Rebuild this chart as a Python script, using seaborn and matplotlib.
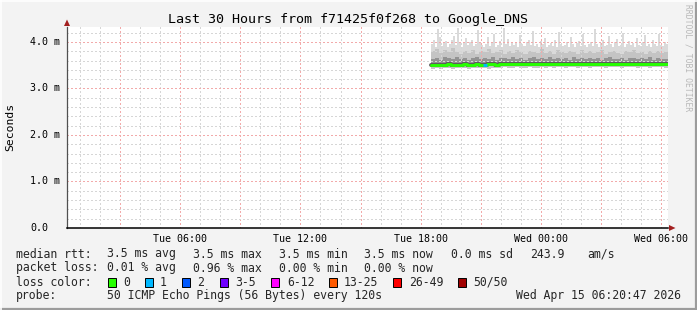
import matplotlib
matplotlib.use("Agg")
import numpy as np
import pandas as pd
import matplotlib.pyplot as plt
import matplotlib.dates as mdates
from matplotlib.patches import Rectangle, Polygon
from matplotlib.lines import Line2D
from matplotlib.ticker import FixedLocator, MultipleLocator, FuncFormatter
from matplotlib.transforms import blended_transform_factory
import seaborn as sns

# ---------------- data ----------------
title = "Last 30 Hours from f71425f0f268 to Google_DNS"
range_start = "2026-04-14 00:20:47"
range_end = "2026-04-15 06:20:47"
data_start = "2026-04-14 18:32:00"
coarse_step = "12min"
fine_step = "6min"

median_ms = [3.51, 3.50, 3.51, 3.51, 3.52, 3.51, 3.50, 3.51, 3.52, 3.51,
             3.51, 3.52, 3.51, 3.51, 3.52, 3.52, 3.51, 3.52, 3.52, 3.53,
             3.52, 3.52, 3.53, 3.52, 3.52, 3.53, 3.53, 3.52, 3.53, 3.53,
             3.53, 3.52, 3.53, 3.53, 3.53, 3.52, 3.53, 3.53, 3.53, 3.53,
             3.53, 3.53, 3.52, 3.53, 3.53, 3.53, 3.53, 3.52, 3.53, 3.53,
             3.53, 3.53, 3.53, 3.52, 3.53, 3.53, 3.53, 3.53, 3.53]
lo_ms = [3.42, 3.43, 3.42, 3.44, 3.43, 3.42, 3.44, 3.43, 3.43, 3.42,
         3.44, 3.43, 3.44, 3.43, 3.42, 3.44, 3.43, 3.44, 3.45, 3.44,
         3.43, 3.45, 3.44, 3.44, 3.45, 3.43, 3.44, 3.45, 3.44, 3.45,
         3.44, 3.45, 3.45, 3.44, 3.45, 3.46, 3.44, 3.45, 3.45, 3.44,
         3.45, 3.46, 3.45, 3.44, 3.45, 3.45, 3.46, 3.44, 3.45, 3.45,
         3.46, 3.44, 3.45, 3.45, 3.44, 3.46, 3.45, 3.45, 3.44]
q25_ms = [3.48, 3.48, 3.47, 3.49, 3.48, 3.48, 3.49, 3.48, 3.49, 3.48,
          3.49, 3.48, 3.49, 3.49, 3.48, 3.49, 3.49, 3.49, 3.50, 3.49,
          3.49, 3.50, 3.49, 3.50, 3.50, 3.49, 3.50, 3.50, 3.49, 3.50,
          3.50, 3.50, 3.50, 3.49, 3.50, 3.51, 3.50, 3.50, 3.50, 3.50,
          3.50, 3.51, 3.50, 3.50, 3.50, 3.50, 3.51, 3.50, 3.50, 3.50,
          3.51, 3.50, 3.50, 3.50, 3.50, 3.51, 3.50, 3.50, 3.50]
q75_ms = [3.64, 3.66, 3.62, 3.68, 3.65, 3.63, 3.67, 3.64, 3.66, 3.62,
          3.65, 3.68, 3.63, 3.66, 3.64, 3.67, 3.62, 3.65, 3.66, 3.63,
          3.67, 3.64, 3.65, 3.62, 3.66, 3.68, 3.63, 3.65, 3.64, 3.67,
          3.63, 3.66, 3.64, 3.65, 3.62, 3.67, 3.64, 3.66, 3.63, 3.65,
          3.64, 3.66, 3.62, 3.65, 3.67, 3.63, 3.64, 3.66, 3.62, 3.65,
          3.66, 3.63, 3.65, 3.64, 3.67, 3.62, 3.65, 3.64, 3.63]
q90_ms = [3.80, 3.84, 3.76, 3.82, 3.78, 3.86, 3.79, 3.74, 3.81, 3.77,
          3.83, 3.75, 3.80, 3.78, 3.85, 3.76, 3.79, 3.82, 3.74, 3.80,
          3.77, 3.83, 3.78, 3.75, 3.81, 3.79, 3.76, 3.84, 3.77, 3.80,
          3.74, 3.82, 3.78, 3.76, 3.81, 3.79, 3.75, 3.83, 3.77, 3.80,
          3.76, 3.78, 3.82, 3.74, 3.79, 3.81, 3.77, 3.75, 3.80, 3.78,
          3.83, 3.76, 3.79, 3.74, 3.81, 3.77, 3.80, 3.76, 3.78]
max_ms = [3.95, 4.05, 3.90, 4.28, 4.10, 3.92, 3.98, 4.02, 3.88, 3.96,
          4.05, 4.12, 3.94, 4.30, 4.00, 3.90, 3.97, 4.08, 3.93, 3.99,
          4.04, 3.91, 3.95, 4.26, 4.00, 3.93, 3.88, 3.96, 4.10, 3.92,
          3.98, 4.18, 3.90, 3.94, 4.02, 3.89, 4.30, 3.95, 4.06, 3.92,
          3.97, 3.93, 4.00, 3.90, 4.14, 3.96, 3.91, 3.99, 4.03, 3.94,
          4.24, 3.92, 3.95, 3.89, 4.01, 3.96, 4.09, 3.90, 3.93, 3.98,
          3.92, 4.05, 3.90, 4.22, 3.96, 3.91, 3.94, 4.00, 3.88, 4.11,
          3.95, 3.90, 3.97, 4.02, 3.91, 4.16, 3.94, 3.89, 3.96, 4.00,
          3.92, 4.27, 3.95, 3.90, 3.98, 4.04, 3.91, 3.93, 4.12, 3.96,
          3.90, 3.99, 4.06, 3.92, 3.94, 4.20, 3.89, 3.95, 4.01, 3.93,
          3.97, 3.90, 4.08, 3.94, 3.91, 3.99, 4.15, 3.92, 3.95, 3.90,
          4.03, 3.96, 3.91, 4.18, 3.94, 3.92, 4.00, 3.95]
loss_pings = [0, 0, 0, 0, 0, 0, 0, 0, 0, 0,
              0, 0, 0, 1, 0, 0, 0, 0, 0, 0,
              0, 0, 0, 0, 0, 0, 0, 0, 0, 0,
              0, 0, 0, 0, 0, 0, 0, 0, 0, 0,
              0, 0, 0, 0, 0, 0, 0, 0, 0, 0,
              0, 0, 0, 0, 0, 0, 0, 0, 0]

y_ticks = [0, 1, 2, 3, 4]
y_tick_labels = ["0.0", "1.0 m", "2.0 m", "3.0 m", "4.0 m"]

loss_labels = ["0", "1", "2", "3-5", "6-12", "13-25", "26-49", "50/50"]
loss_colors = ["#26ff00", "#00b8ff", "#0059ff", "#7000ff", "#ff00ff",
               "#ff5a00", "#ff0000", "#a00000"]
loss_upper = [0, 1, 2, 5, 12, 25, 49, 50]

legend_rtt = ["3.5 ms avg", "3.5 ms max", "3.5 ms min", "3.5 ms now",
              "0.0 ms sd", "243.9", "am/s"]
legend_loss = ["0.01 % avg", "0.96 % max", "0.00 % min", "0.00 % now"]
probe_text = "50 ICMP Echo Pings (56 Bytes) every 120s"
stamp_text = "Wed Apr 15 06:20:47 2026"

# ---------------- style ----------------
sns.set_theme(style="white")
plt.rcParams["font.family"] = ["DejaVu Sans Mono", "DejaVu Sans"]
MONO = "DejaVu Sans Mono"

W, H = 697, 310
fig = plt.figure(figsize=(W / 100, H / 100), dpi=100, facecolor="#f3f3f3")


def fx(x):
    return x / W


def fy(y):
    return 1 - y / H


L, T, R, B = 67, 27, 668, 228
ax = fig.add_axes([fx(L), fy(B), (R - L) / W, (B - T) / H])
ax.set_facecolor("white")

t_coarse = pd.date_range(data_start, periods=len(median_ms), freq=coarse_step)
t_fine = pd.date_range(data_start, periods=len(max_ms), freq=fine_step)
cstep = pd.Timedelta(coarse_step)
fstep = pd.Timedelta(fine_step)


def stepped(times, vals, step):
    tt = list(times) + [times[-1] + step]
    vv = list(vals) + [vals[-1]]
    return tt, vv


# smoke
tf, mx = stepped(t_fine, max_ms, fstep)
lo_f = np.repeat(lo_ms, 2)[:len(max_ms)]
_, lof = stepped(t_fine, lo_f, fstep)
ax.fill_between(tf, lof, mx, step="post", color="#dadada", lw=0, zorder=1)

tc, q90 = stepped(t_coarse, q90_ms, cstep)
_, lo = stepped(t_coarse, lo_ms, cstep)
_, q25 = stepped(t_coarse, q25_ms, cstep)
_, q75 = stepped(t_coarse, q75_ms, cstep)
_, med = stepped(t_coarse, median_ms, cstep)
ax.fill_between(tc, lo, q90, step="post", color="#c4c4c4", lw=0, zorder=1.1)
ax.fill_between(tc, q25, q75, step="post", color="#939393", lw=0, zorder=1.2)

df = pd.DataFrame({"time": tc, "median": med})
sns.lineplot(data=df, x="time", y="median", drawstyle="steps-post",
             color="#5a5a5a", linewidth=2.8, ax=ax, zorder=3)
sns.lineplot(data=df, x="time", y="median", drawstyle="steps-post",
             color=loss_colors[0], linewidth=2.1, ax=ax, zorder=3.5)
for i, lp in enumerate(loss_pings):
    if lp > 0:
        ci = next(k for k, u in enumerate(loss_upper) if lp <= u)
        ax.plot([t_coarse[i], t_coarse[i] + cstep], [median_ms[i]] * 2,
                color=loss_colors[ci], lw=2.1, zorder=3.6, solid_capstyle="butt")

# axes
ax.set_xlim(pd.Timestamp(range_start), pd.Timestamp(range_end))
ax.set_ylim(0, 4.32)
ax.set_xlabel("")
ax.set_ylabel("")

ax.xaxis.set_major_locator(mdates.HourLocator(byhour=range(0, 24, 3)))
ax.xaxis.set_minor_locator(mdates.HourLocator())


def xfmt(v, pos):
    d = mdates.num2date(v)
    return d.strftime("%a %H:%M") if d.hour % 6 == 0 else ""


ax.xaxis.set_major_formatter(FuncFormatter(xfmt))
ax.yaxis.set_major_locator(FixedLocator(y_ticks))
ax.yaxis.set_minor_locator(MultipleLocator(0.2))

ax.set_axisbelow(False)
ax.grid(True, which="minor", color="#d6d6d6",
        linestyle=(0, (1.4, 2.8)), linewidth=0.72, antialiased=False)
ax.grid(True, which="major", color="#f2aaaa",
        linestyle=(0, (1.4, 2.8)), linewidth=0.72, antialiased=False)

ax.tick_params(axis="x", which="major", length=2, width=0.8, color="black",
               pad=2.2, labelsize=7.2, labelcolor="black", direction="out")
ax.tick_params(axis="x", which="minor", length=1.2, width=0.6, color="black",
               direction="out")
ax.tick_params(axis="y", which="both", length=0, labelleft=False)
for lab in ax.get_xticklabels():
    lab.set_fontfamily(MONO)

for s in ["top", "right"]:
    ax.spines[s].set_visible(False)
ax.spines["left"].set_color("#505050")
ax.spines["left"].set_linewidth(0.9)
ax.spines["bottom"].set_color("black")
ax.spines["bottom"].set_linewidth(1.1)
ax.spines["left"].set_zorder(4)
ax.spines["bottom"].set_zorder(4)

# y tick labels
btr = blended_transform_factory(fig.transFigure, ax.transData)
for v, lab in zip(y_ticks, y_tick_labels):
    fig.text(fx(30), v, lab, transform=btr, ha="left", va="center",
             fontsize=7.2, family=MONO, color="black")

# arrows
arrow_c = "#a31f1f"
fig.patches.append(Polygon([[fx(64), fy(26)], [fx(70), fy(26)], [fx(67), fy(19.5)]],
                           closed=True, transform=fig.transFigure,
                           facecolor=arrow_c, edgecolor="none"))
fig.patches.append(Polygon([[fx(669), fy(225)], [fx(669), fy(231)], [fx(675.5), fy(228)]],
                           closed=True, transform=fig.transFigure,
                           facecolor=arrow_c, edgecolor="none"))

# titles
fig.text(fx(348), fy(19), title, ha="center", va="center", fontsize=9.6,
         family=MONO, color="black")
fig.text(fx(10), fy(127), "Seconds", ha="center", va="center", rotation=90,
         fontsize=8.2, family=MONO, color="black")
fig.text(fx(688), fy(4), "RRDTOOL / TOBI OETIKER", ha="center", va="top",
         rotation=-90, fontsize=5.8, family=MONO, color="#b8b8b8")

# legend
LF = 8.3
ys = [254, 268, 282, 296]
fig.text(fx(16), fy(ys[0]), "median rtt:", ha="left", va="center", fontsize=LF, family=MONO)
for xp, s in zip([107, 193, 279, 364, 451, 530, 587], legend_rtt):
    fig.text(fx(xp), fy(ys[0]), s, ha="left", va="center", fontsize=LF, family=MONO)
fig.text(fx(16), fy(ys[1]), "packet loss:", ha="left", va="center", fontsize=LF, family=MONO)
for xp, s in zip([107, 193, 279, 364], legend_loss):
    fig.text(fx(xp), fy(ys[1]), s, ha="left", va="center", fontsize=LF, family=MONO)
fig.text(fx(16), fy(ys[2]), "loss color:", ha="left", va="center", fontsize=LF, family=MONO)
box_x = [108, 145, 182, 220, 271, 329, 393, 458]
txt_x = [123, 160, 197, 235, 287, 344, 409, 473]
for bx, tx, lab, c in zip(box_x, txt_x, loss_labels, loss_colors):
    fig.patches.append(Rectangle((fx(bx), fy(ys[2] + 4.5)), 8 / W, 9 / H,
                                 transform=fig.transFigure, facecolor=c,
                                 edgecolor="black", linewidth=0.7))
    fig.text(fx(tx), fy(ys[2]), lab, ha="left", va="center", fontsize=LF, family=MONO)
fig.text(fx(16), fy(ys[3]), "probe:", ha="left", va="center", fontsize=LF, family=MONO)
fig.text(fx(107), fy(ys[3]), probe_text, ha="left", va="center", fontsize=LF, family=MONO)
fig.text(fx(681), fy(ys[3]), stamp_text, ha="right", va="center", fontsize=LF, family=MONO)

# 3D frame
fig.lines.append(Line2D([0, 1], [fy(308.5), fy(308.5)], transform=fig.transFigure,
                        color="#9c9c9c", lw=1.6))
fig.lines.append(Line2D([fx(695.5), fx(695.5)], [0, 1], transform=fig.transFigure,
                        color="#9c9c9c", lw=1.6))
fig.lines.append(Line2D([0, 1], [fy(0.7), fy(0.7)], transform=fig.transFigure,
                        color="white", lw=1.2))
fig.lines.append(Line2D([fx(0.7), fx(0.7)], [0, 1], transform=fig.transFigure,
                        color="white", lw=1.2))

fig.savefig("out.png", dpi=100, facecolor=fig.get_facecolor())
